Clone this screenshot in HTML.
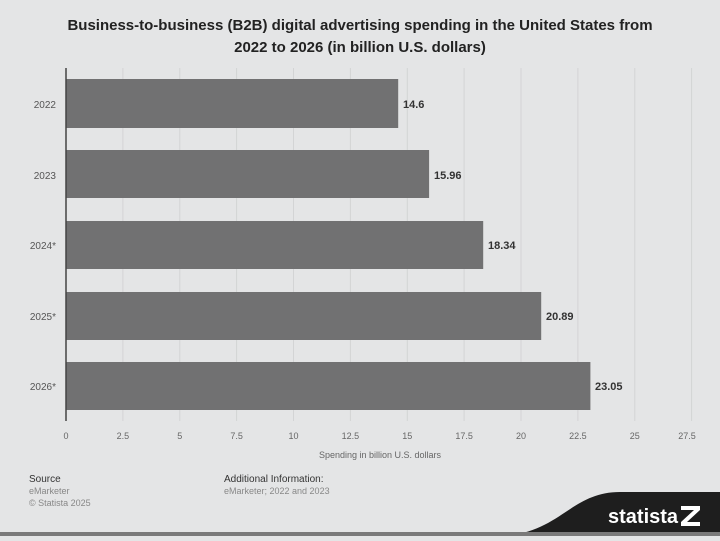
<!DOCTYPE html>
<html><head><meta charset="utf-8"><style>
body{margin:0;width:720px;height:536px;background:#e4e5e6;overflow:hidden;font-family:"Liberation Sans",sans-serif;}
</style></head><body>
<svg width="720" height="536" xmlns="http://www.w3.org/2000/svg" font-family="Liberation Sans, sans-serif">
<rect width="720" height="536" fill="#e4e5e6"/>
<text x="360" y="30" text-anchor="middle" font-size="15" font-weight="bold" fill="#222">Business-to-business (B2B) digital advertising spending in the United States from</text>
<text x="360" y="52" text-anchor="middle" font-size="15" font-weight="bold" fill="#222">2022 to 2026 (in billion U.S. dollars)</text>
<g stroke="#d3d4d5" stroke-width="1">
<line x1="122.9" y1="68" x2="122.9" y2="421"/><line x1="179.8" y1="68" x2="179.8" y2="421"/>
<line x1="236.6" y1="68" x2="236.6" y2="421"/><line x1="293.5" y1="68" x2="293.5" y2="421"/>
<line x1="350.4" y1="68" x2="350.4" y2="421"/><line x1="407.3" y1="68" x2="407.3" y2="421"/>
<line x1="464.1" y1="68" x2="464.1" y2="421"/><line x1="521" y1="68" x2="521" y2="421"/>
<line x1="577.9" y1="68" x2="577.9" y2="421"/><line x1="634.8" y1="68" x2="634.8" y2="421"/>
<line x1="691.6" y1="68" x2="691.6" y2="421"/>
</g>
<g fill="#717172">
<rect x="66" y="79" width="332.2" height="49"/>
<rect x="66" y="150" width="363.1" height="48"/>
<rect x="66" y="221" width="417.2" height="48"/>
<rect x="66" y="292" width="475.2" height="48"/>
<rect x="66" y="362" width="524.4" height="48"/>
</g>
<line x1="66" y1="68" x2="66" y2="421" stroke="#444" stroke-width="1.5"/>
<g font-size="11" font-weight="bold" fill="#333">
<text x="403" y="108">14.6</text><text x="434" y="179">15.96</text>
<text x="488" y="249">18.34</text><text x="546" y="320">20.89</text><text x="595" y="390">23.05</text>
</g>
<g font-size="10" fill="#555" text-anchor="end">
<text x="56" y="108">2022</text><text x="56" y="179">2023</text>
<text x="56" y="249">2024*</text><text x="56" y="320">2025*</text><text x="56" y="390">2026*</text>
</g>
<g font-size="9" fill="#666" text-anchor="middle">
<text x="66" y="439">0</text><text x="122.9" y="439">2.5</text><text x="179.8" y="439">5</text>
<text x="236.6" y="439">7.5</text><text x="293.5" y="439">10</text><text x="350.4" y="439">12.5</text>
<text x="407.3" y="439">15</text><text x="464.1" y="439">17.5</text><text x="521" y="439">20</text>
<text x="577.9" y="439">22.5</text><text x="634.8" y="439">25</text><text x="687" y="439">27.5</text>
<text x="380" y="458">Spending in billion U.S. dollars</text>
</g>
<text x="29" y="482" font-size="10" fill="#333">Source</text>
<text x="29" y="494" font-size="9" fill="#888">eMarketer</text>
<text x="29" y="506" font-size="9" fill="#888">© Statista 2025</text>
<text x="224" y="482" font-size="10" fill="#333">Additional Information:</text>
<text x="224" y="494" font-size="9" fill="#888">eMarketer; 2022 and 2023</text>
<path d="M500 536 C560 534 570 492 620 492 L720 492 L720 536 Z" fill="#1e1e1e"/>
<rect x="0" y="532" width="720" height="4" fill="#7a7a7a"/>
<text x="608" y="523" font-size="20" font-weight="bold" fill="#fff">statista</text>
<path d="M681 506 L700 506 L700 510 L687 522 L700 522 L700 526 L681 526 L681 522 L694 510 L681 510 Z" fill="#fff"/>
</svg>
</body></html>
